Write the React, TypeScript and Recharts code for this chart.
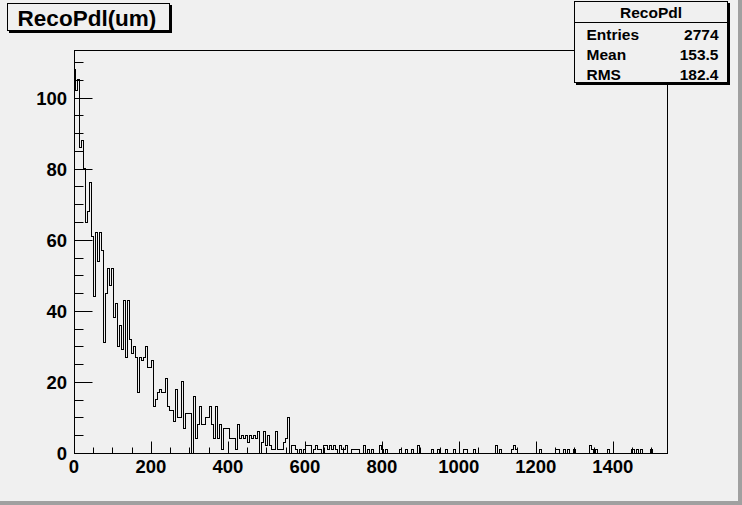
import React from 'react';
import { LineChart, Line, XAxis, YAxis } from 'recharts';

const BIN_WIDTH = 5.188;
const X_MAX = 1541;
const Y_MAX = 113.4;

const COUNTS = [
  108, 102, 105, 86, 88, 80, 65, 68, 76, 61,
  44, 62, 54, 62, 57, 31, 45, 52, 47, 52,
  38, 42, 30, 36, 29, 43, 27, 43, 32, 28,
  30, 27, 17, 27, 26, 27, 30, 24, 24, 26,
  13, 15, 17, 18, 17, 17, 21, 13, 12, 12,
  9, 18, 10, 10, 20, 7, 11, 11, 11, 0,
  16, 4, 8, 13, 8, 8, 10, 10, 13, 8,
  4, 13, 4, 8, 1, 7, 7, 7, 4, 4,
  4, 1, 8, 4, 5, 4, 5, 3, 5, 4,
  5, 4, 6, 0, 3, 6, 2, 5, 2, 1,
  1, 6, 1, 1, 1, 3, 4, 10, 0, 2,
  2, 1, 0, 1, 0, 1, 2, 2, 2, 0,
  1, 2, 1, 1, 0, 2, 2, 1, 2, 1,
  2, 1, 0, 2, 1, 1, 2, 0, 0, 1,
  1, 1, 1, 0, 0, 2, 0, 1, 0, 1,
  0, 0, 0, 2, 1, 0, 1, 0, 0, 0,
  0, 0, 0, 1, 0, 0, 1, 0, 0, 1,
  0, 0, 2, 0, 0, 0, 0, 0, 0, 1,
  0, 0, 1, 0, 0, 0, 1, 0, 0, 0,
  1, 0, 0, 0, 0, 1, 1, 0, 0, 0,
  1, 0, 0, 0, 0, 0, 0, 0, 0, 0,
  0, 2, 0, 1, 0, 0, 0, 0, 0, 1,
  2, 1, 0, 0, 0, 0, 0, 0, 0, 0,
  0, 0, 0, 1, 0, 0, 0, 0, 0, 0,
  0, 1, 1, 0, 0, 1, 0, 1, 0, 0,
  1, 0, 0, 0, 0, 0, 0, 0, 2, 1,
  0, 1, 0, 0, 0, 0, 0, 1, 0, 0,
  0, 0, 0, 0, 0, 0, 0, 0, 0, 1,
  1, 0, 1, 0, 1, 0, 0, 0, 0, 1,
  0, 0, 0, 0, 0, 0, 0,
];

const X_TICKS = [0, 50, 100, 150, 200, 250, 300, 350, 400, 450, 500, 550, 600, 650, 700, 750, 800, 850, 900, 950, 1000, 1050, 1100, 1150, 1200, 1250, 1300, 1350, 1400, 1450, 1500];
const X_LABELS = [0, 200, 400, 600, 800, 1000, 1200, 1400];
const Y_TICKS = [0, 5, 10, 15, 20, 25, 30, 35, 40, 45, 50, 55, 60, 65, 70, 75, 80, 85, 90, 95, 100, 105, 110];
const Y_LABELS = [0, 20, 40, 60, 80, 100];

const TITLE = 'RecoPdl(um)';
const STATS_NAME = 'RecoPdl';
const STATS_LABELS = ['Entries', 'Mean', 'RMS'];
const STATS_VALUES = ['2774', '153.5', '182.4'];

const FONT = '"Liberation Sans", Arial, Helvetica, sans-serif';
const PLOT_BOTTOM = 453;
const PLOT_LEFT = 74;

const data = COUNTS.map((c, i) => ({ x: i * BIN_WIDTH, y: c })).concat([
  { x: COUNTS.length * BIN_WIDTH, y: 0 },
]);

const XTick = (props: any) => {
  const { x, payload } = props;
  const y = PLOT_BOTTOM + 0.5;
  const v = payload.value;
  const major = X_LABELS.includes(v);
  const xx = Math.round(x) + 0.5;
  return (
    <g>
      <line x1={xx} x2={xx} y1={y} y2={y - (major ? 12 : 6)} stroke="#000" strokeWidth={1} />
      {major && (
        <text x={x} y={PLOT_BOTTOM + 20} textAnchor="middle" fontFamily={FONT} fontWeight="bold" fontSize={18.5} fill="#000">
          {v}
        </text>
      )}
    </g>
  );
};

const YTick = (props: any) => {
  const { y, payload } = props;
  const x = PLOT_LEFT + 0.5;
  const v = payload.value;
  const major = Y_LABELS.includes(v);
  const yy = Math.round(y) + 0.5;
  return (
    <g>
      <line x1={x} x2={x + (major ? 18 : 9)} y1={yy} y2={yy} stroke="#000" strokeWidth={1} />
      {major && (
        <text x={PLOT_LEFT - 7} y={y + 7} textAnchor="end" fontFamily={FONT} fontWeight="bold" fontSize={18.5} fill="#000">
          {v}
        </text>
      )}
    </g>
  );
};

export default function App() {
  return (
    <div style={{ position: 'absolute', left: 0, top: 0, width: 742, height: 505, background: '#f0f0f0', overflow: 'hidden' }}>
      <LineChart width={742} height={505} data={data} margin={{ top: 50, right: 75, bottom: 22, left: 14 }}>
        <XAxis
          dataKey="x"
          type="number"
          domain={[0, X_MAX]}
          ticks={X_TICKS}
          interval={0}
          height={30}
          tickSize={4}
          tickMargin={2}
          tickLine={false}
          axisLine={false}
          tick={<XTick />}
          allowDataOverflow
        />
        <YAxis
          type="number"
          domain={[0, Y_MAX]}
          ticks={Y_TICKS}
          interval={0}
          width={60}
          tickSize={4}
          tickMargin={2}
          tickLine={false}
          axisLine={false}
          tick={<YTick />}
          allowDataOverflow
        />
        <Line
          type="stepAfter"
          dataKey="y"
          stroke="#000"
          strokeWidth={1}
          dot={false}
          isAnimationActive={false}
          shapeRendering="crispEdges"
        />
      </LineChart>
      <svg width={742} height={505} style={{ position: 'absolute', left: 0, top: 0, pointerEvents: 'none' }}>
        <rect x={74.5} y={50.5} width={593} height={403} fill="none" stroke="#000" strokeWidth={1} />
        <rect x={9} y={5} width={163} height={28} fill="#000" />
        <rect x={7.5} y={3.5} width={162} height={27} fill="#f0f0f0" stroke="#000" strokeWidth={1} />
        <text x={87} y={26} textAnchor="middle" fontFamily={FONT} fontWeight="bold" fontSize={22.5} fill="#000">
          {TITLE}
        </text>
        <rect x={576} y={3} width={154} height={82} fill="#000" />
        <rect x={574.5} y={1.5} width={153} height={81} fill="#f0f0f0" stroke="#000" strokeWidth={1} />
        <line x1={574.5} x2={727.5} y1={22.5} y2={22.5} stroke="#000" strokeWidth={1} />
        <text x={651} y={18} textAnchor="middle" fontFamily={FONT} fontWeight="bold" fontSize={15.5} fill="#000">
          {STATS_NAME}
        </text>
        {STATS_LABELS.map((l, i) => (
          <text key={l} x={586.5} y={39.5 + i * 20} fontFamily={FONT} fontWeight="bold" fontSize={15.5} fill="#000">
            {l}
          </text>
        ))}
        {STATS_VALUES.map((v, i) => (
          <text key={v} x={718.5} y={39.5 + i * 20} textAnchor="end" fontFamily={FONT} fontWeight="bold" fontSize={15.5} fill="#000">
            {v}
          </text>
        ))}
        <rect x={738} y={0} width={4} height={505} fill="#a0a0a0" />
        <rect x={0} y={501} width={742} height={4} fill="#a0a0a0" />
      </svg>
    </div>
  );
}
